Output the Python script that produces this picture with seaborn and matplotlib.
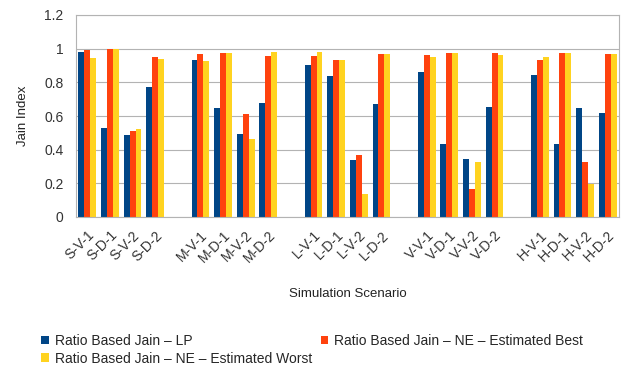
import pandas as pd
import matplotlib
matplotlib.use('Agg')
import matplotlib.pyplot as plt
import seaborn as sns

# scenario labels, grouped by 4 with a blank slot between groups
scenarios = ['S-V-1', 'S-D-1', 'S-V-2', 'S-D-2',
             'M-V-1', 'M-D-1', 'M-V-2', 'M-D-2',
             'L-V-1', 'L-D-1', 'L-V-2', 'L-D-2',
             'V-V-1', 'V-D-1', 'V-V-2', 'V-D-2',
             'H-V-1', 'H-D-1', 'H-V-2', 'H-D-2']

lp = [0.98, 0.53, 0.49, 0.775,
      0.93, 0.648, 0.492, 0.675,
      0.902, 0.838, 0.339, 0.669,
      0.86, 0.434, 0.343, 0.654,
      0.846, 0.432, 0.647, 0.618]
est_best = [0.995, 1.0, 0.508, 0.952,
            0.968, 0.972, 0.613, 0.958,
            0.956, 0.934, 0.369, 0.968,
            0.964, 0.975, 0.164, 0.972,
            0.932, 0.975, 0.325, 0.968]
est_worst = [0.944, 1.0, 0.524, 0.94,
             0.926, 0.976, 0.464, 0.98,
             0.98, 0.932, 0.136, 0.968,
             0.952, 0.972, 0.327, 0.962,
             0.952, 0.975, 0.195, 0.968]

series_names = ['Ratio Based Jain – LP',
                'Ratio Based Jain – NE – Estimated Best',
                'Ratio Based Jain – NE – Estimated Worst']
colors = ['#004586', '#ff420e', '#ffd320']

# long format table for seaborn
rows = []
for name, vals in zip(series_names, [lp, est_best, est_worst]):
    for sc, v in zip(scenarios, vals):
        rows.append({'scenario': sc, 'series': name, 'value': v})
df = pd.DataFrame(rows)

# order with empty slots between groups
order = []
labels = []
for g in range(5):
    order += scenarios[g * 4:(g + 1) * 4]
    labels += scenarios[g * 4:(g + 1) * 4]
    if g < 4:
        order.append(' ' * (g + 1))
        labels.append('')

sns.set_style('white')
plt.rcParams['font.family'] = ['Liberation Sans', 'DejaVu Sans']

fig = plt.figure(figsize=(6.27, 3.68), dpi=100)
ax = fig.add_axes([76 / 627, 1 - 217 / 368, 543 / 627, 202 / 368])

sns.barplot(data=df, x='scenario', y='value', hue='series', order=order,
            hue_order=series_names, palette=colors, width=0.78, gap=0,
            linewidth=0, saturation=1, ax=ax, legend=True)

ax.set_ylim(0, 1.2)
ax.set_yticks([0, 0.2, 0.4, 0.6, 0.8, 1.0, 1.2])
ax.set_yticklabels(['0', '0.2', '0.4', '0.6', '0.8', '1', '1.2'],
                   fontsize=10, color='#333333')
ax.set_xlim(-0.5, len(order) - 0.5)
ax.set_xticks(range(len(order)))
ax.set_xticklabels(labels, rotation=45, ha='right', rotation_mode='anchor',
                   fontsize=10, color='#333333')
ax.set_xticks([i - 0.5 for i in range(len(order) + 1)], minor=True)
ax.tick_params(axis='x', which='major', length=0, pad=8)
ax.tick_params(axis='x', which='minor', length=4.5, color='#b3b3b3', width=0.8)
ax.tick_params(axis='y', length=6, color='#b3b3b3', width=0.8, pad=3)
ax.yaxis.grid(True, color='#b3b3b3', linewidth=0.8)
ax.set_axisbelow(True)
for sp in ax.spines.values():
    sp.set_color('#b3b3b3')
    sp.set_linewidth(0.8)

ax.set_xlabel('Simulation Scenario', fontsize=9.5, labelpad=16, color='#222222')
ax.set_ylabel('Jain Index', fontsize=9.5, labelpad=11, color='#222222')

handles, names = ax.get_legend_handles_labels()
ax.get_legend().remove()
fig.legend([handles[0], handles[2], handles[1]], [names[0], names[2], names[1]],
           loc='upper left', bbox_to_anchor=(30 / 627, 1 - 323 / 368), ncol=2,
           frameon=False, fontsize=10, handlelength=0.55, handleheight=0.55,
           handletextpad=0.45, columnspacing=0.6, labelspacing=0.25,
           borderpad=0.3)

fig.savefig('out.png', dpi=100)
